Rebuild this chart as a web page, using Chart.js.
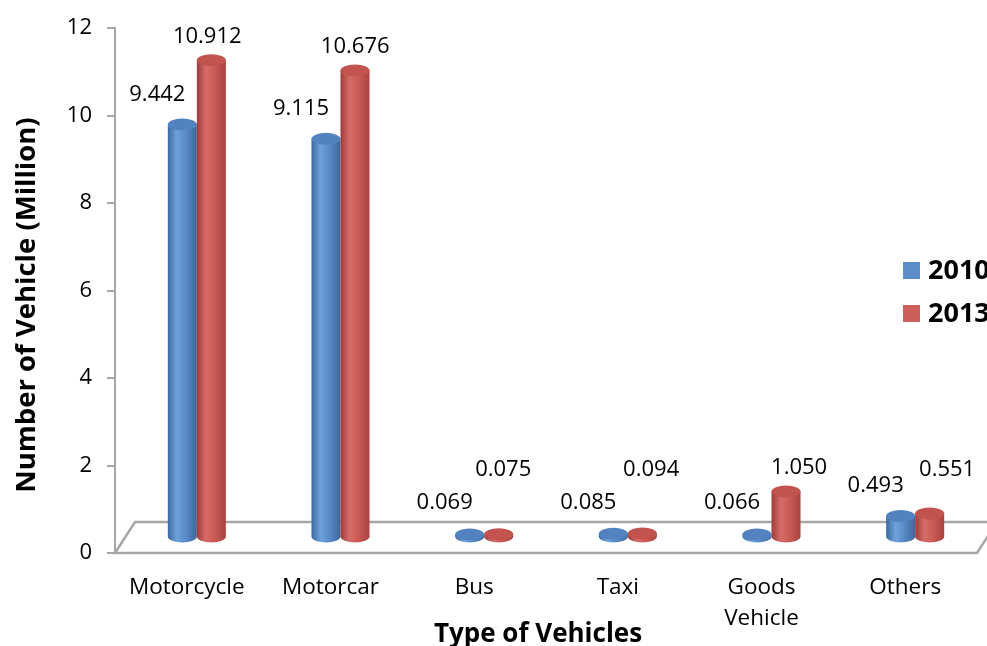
<!DOCTYPE html>
<html>
<head>
<meta charset="utf-8">
<script src="https://cdn.jsdelivr.net/npm/chart.js@4.4.1/dist/chart.umd.min.js"></script>
<style>
  body { margin: 0; background: #fff; }
  #vehicleChart { display: block; }
</style>
</head>
<body>
<canvas id="vehicleChart" width="987" height="646"></canvas>
<script>
// Registered vehicles by type (million)
var vehicleTypes = ["Motorcycle", "Motorcar", "Bus", "Taxi", ["Goods", "Vehicle"], "Others"];
var seriesNames = ["2010", "2013"];
var vehicles2010 = [9.442, 9.115, 0.069, 0.085, 0.066, 0.493];
var vehicles2013 = [10.912, 10.676, 0.075, 0.094, 1.050, 0.551];
var yMin = 0, yMax = 12, yStep = 2;
var xTitle = "Type of Vehicles";
var yTitle = "Number of Vehicle (Million)";

var blueFill = "#5b8ec9";
var redFill = "#cd5f5a";
var axisGray = "#a6a6a6";
var FONT = "'Open Sans', sans-serif";

// depth of the 3D floor, bars sit half way in
var DEPTH_X = 20, DEPTH_Y = 31;

var shades = [
  { edge: "#3d6aa3", light: "#6fa1da", mid: "#5a8cc9", dark: "#3f679c", top: "#5283c0" },
  { edge: "#9e3d3a", light: "#d66c67", mid: "#cb5b57", dark: "#a9423f", top: "#c2534f" }
];

function drawCylinder(ctx, cx, top, base, w, s) {
  var rx = w / 2, ry = 6;
  var grad = ctx.createLinearGradient(cx - rx, 0, cx + rx, 0);
  grad.addColorStop(0, s.edge);
  grad.addColorStop(0.32, s.light);
  grad.addColorStop(0.6, s.mid);
  grad.addColorStop(1, s.dark);

  ctx.beginPath();
  ctx.moveTo(cx - rx, top);
  ctx.lineTo(cx - rx, base);
  ctx.ellipse(cx, base, rx, ry, 0, Math.PI, 0, true);
  ctx.lineTo(cx + rx, top);
  ctx.closePath();
  ctx.fillStyle = grad;
  ctx.fill();

  ctx.beginPath();
  ctx.ellipse(cx, top, rx, ry, 0, 0, Math.PI * 2);
  ctx.fillStyle = s.top;
  ctx.fill();
}

var cylinderPlugin = {
  id: "cylinders",
  beforeDatasetsDraw: function (chart) {
    var ctx = chart.ctx;
    var area = chart.chartArea;
    var y0 = chart.scales.y.getPixelForValue(0);

    // floor
    ctx.save();
    ctx.beginPath();
    ctx.moveTo(area.left, y0);
    ctx.lineTo(area.left + DEPTH_X, y0 - DEPTH_Y);
    ctx.lineTo(area.right + DEPTH_X, y0 - DEPTH_Y);
    ctx.lineTo(area.right, y0);
    ctx.closePath();
    ctx.fillStyle = "#fff";
    ctx.fill();
    ctx.strokeStyle = axisGray;
    ctx.lineWidth = 2.5;
    ctx.stroke();

    var dx = DEPTH_X / 2, dy = DEPTH_Y / 2;
    chart.data.datasets.forEach(function (ds, i) {
      chart.getDatasetMeta(i).data.forEach(function (bar) {
        drawCylinder(ctx, bar.x + dx, bar.y - dy, bar.base - dy, bar.width, shades[i]);
      });
    });
    ctx.restore();
    return false; // cylinders replace the flat bars
  },
  afterDraw: function (chart) {
    var ctx = chart.ctx;
    var left = chart.chartArea.left;
    var dx = DEPTH_X / 2, dy = DEPTH_Y / 2;
    ctx.save();

    // value labels
    ctx.font = "22px " + FONT;
    ctx.fillStyle = "#000";
    ctx.textAlign = "center";
    ctx.textBaseline = "middle";
    chart.data.datasets.forEach(function (ds, i) {
      chart.getDatasetMeta(i).data.forEach(function (bar, j) {
        var cx = bar.x + dx, top = bar.y - dy, base = bar.base - dy;
        var lx, ly;
        if (i === 0) {
          lx = cx - 25;
          ly = Math.min(top - 30, base - 34);
        } else {
          // 2013 labels drift right with the perspective
          lx = cx - 7 + 0.03 * (cx - left);
          ly = Math.min(top - 24, base - 67);
        }
        ctx.fillText(ds.data[j].toFixed(3), lx, ly);
      });
    });

    // axis titles
    ctx.font = "bold 26px " + FONT;
    ctx.textBaseline = "alphabetic";
    ctx.fillText(xTitle, 538, 642);
    ctx.save();
    ctx.translate(27, 305);
    ctx.rotate(-Math.PI / 2);
    ctx.font = "bold 27.5px " + FONT;
    ctx.textBaseline = "middle";
    ctx.fillText(yTitle, 0, 0);
    ctx.restore();

    // legend
    var lgX = 903, lgY = [270, 313];
    ctx.font = "bold 27px " + FONT;
    ctx.textAlign = "left";
    ctx.textBaseline = "middle";
    chart.data.datasets.forEach(function (ds, i) {
      ctx.fillStyle = ds.backgroundColor;
      ctx.fillRect(lgX, lgY[i] - 8, 17, 17);
      ctx.fillStyle = "#000";
      ctx.fillText(ds.label, lgX + 25, lgY[i] + 1);
    });
    ctx.restore();
  }
};

new Chart(document.getElementById("vehicleChart"), {
  type: "bar",
  data: {
    labels: vehicleTypes,
    datasets: [
      { label: seriesNames[0], data: vehicles2010, backgroundColor: blueFill },
      { label: seriesNames[1], data: vehicles2013, backgroundColor: redFill }
    ]
  },
  options: {
    responsive: false,
    animation: false,
    events: [],
    categoryPercentage: 0.404,
    barPercentage: 1,
    layout: { padding: { top: 21, right: 10, left: 0, bottom: 0 } },
    plugins: {
      legend: { display: false },
      tooltip: { enabled: false }
    },
    scales: {
      x: {
        grid: { display: false, drawTicks: false },
        border: { display: false },
        ticks: {
          color: "#000",
          padding: 19,
          maxRotation: 0,
          autoSkip: false,
          font: { family: FONT, size: 22.5, lineHeight: 1.38 }
        },
        afterFit: function (scale) { scale.height = 93; }
      },
      y: {
        min: yMin,
        max: yMax,
        ticks: {
          stepSize: yStep,
          color: "#000",
          padding: 15,
          font: { family: FONT, size: 22 }
        },
        grid: {
          drawOnChartArea: false,
          drawTicks: true,
          tickLength: 8,
          color: axisGray,
          lineWidth: 2
        },
        border: { color: axisGray, width: 2 },
        afterFit: function (scale) { scale.width = 115; }
      }
    }
  },
  plugins: [cylinderPlugin]
});
</script>
</body>
</html>
